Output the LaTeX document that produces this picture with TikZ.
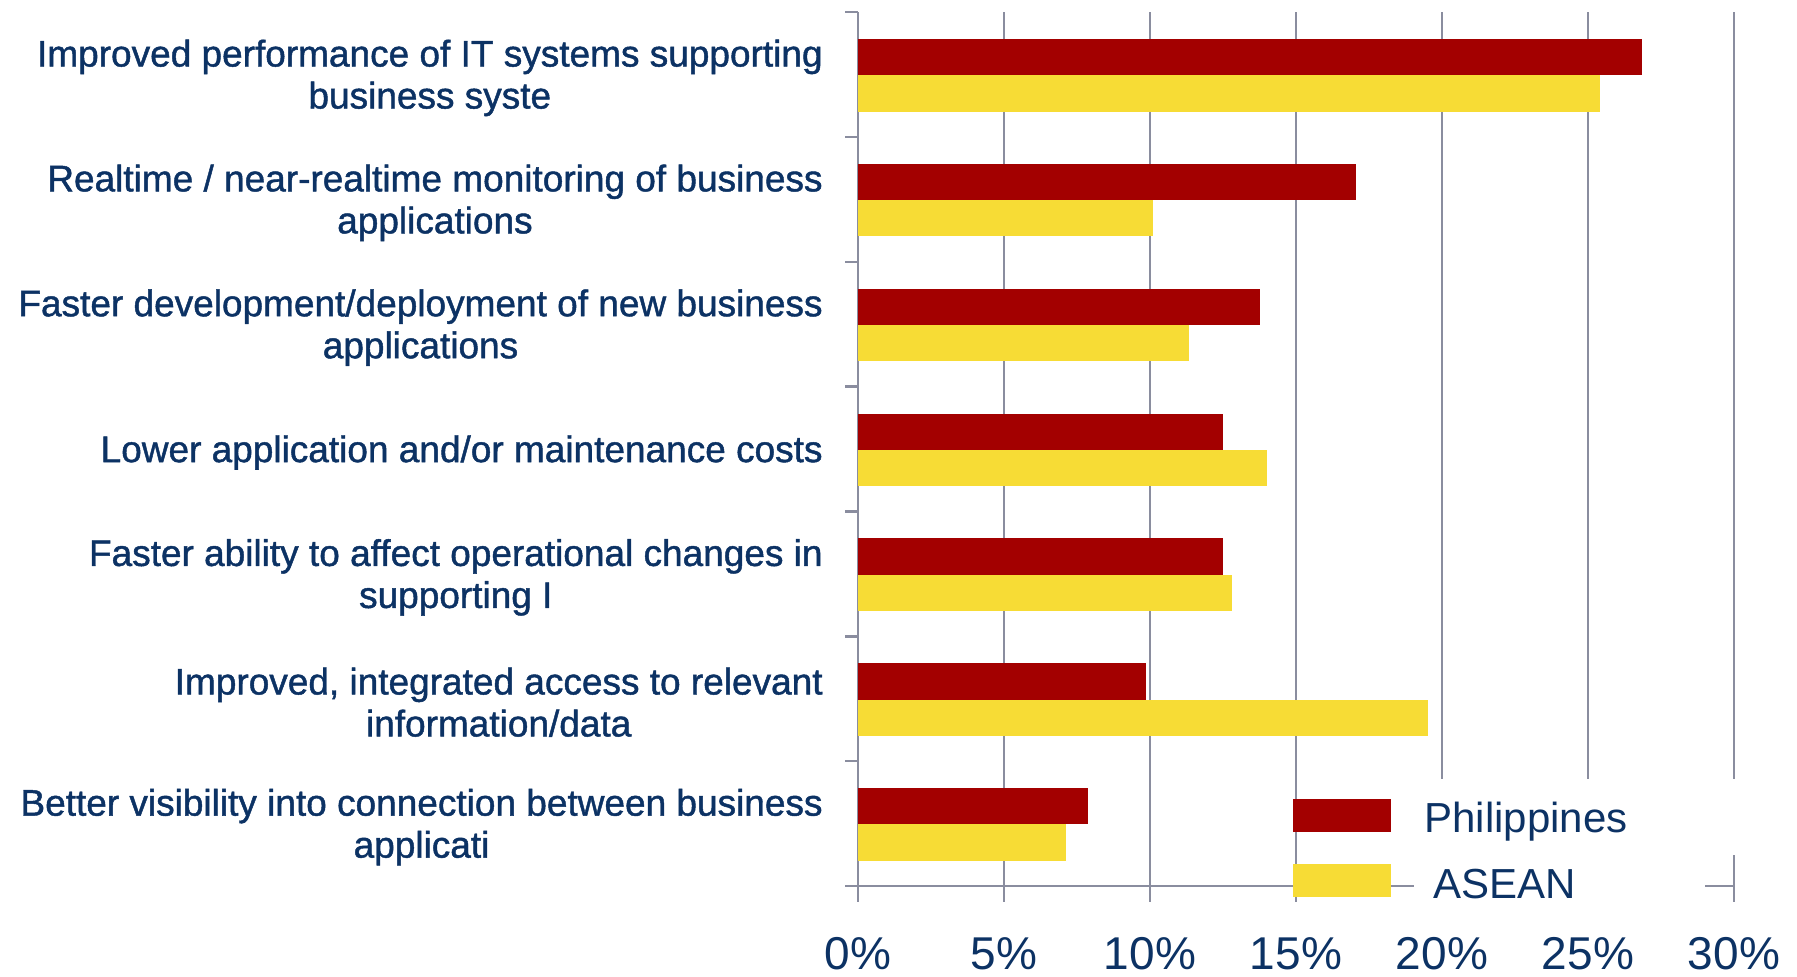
\documentclass[tikz,border=0pt]{standalone}
\usepackage{fontspec}
\setmainfont{Liberation Sans}
\newfontfamily\labfont[FakeBold=1.2]{Liberation Sans}
\definecolor{txt}{HTML}{0C3264}
\definecolor{gridc}{HTML}{8A8D9F}
\definecolor{phil}{HTML}{A30000}
\definecolor{asean}{HTML}{F7DC35}
\begin{document}
\begin{tikzpicture}[x=0.5pt,y=-0.5pt,
  gridline/.style={draw=gridc, line width=1.2pt},
  lab/.style={anchor=east, align=center, inner sep=0pt, text=txt, font=\labfont\fontsize{18.5}{21}\selectfont},
  ticklab/.style={anchor=center, inner sep=0pt, text=txt, font=\fontsize{23}{26}\selectfont},
  leg/.style={anchor=base west, inner sep=0pt, text=txt, font=\fontsize{21}{24}\selectfont},
  pbar/.style={fill=phil}, abar/.style={fill=asean}]
\useasboundingbox (0,0) rectangle (1797,976);
% grid lines
\foreach \p in {5,10,...,30} \draw[gridline] ({858+\p*29.2},12) -- ({858+\p*29.2},902);
\draw[gridline] (858,12) -- (858,902);
\foreach \i in {0,...,7} \draw[gridline] (845,{12+\i*124.857}) -- (858,{12+\i*124.857});
\draw[gridline] (845,886) -- (1734,886);
% legend background
\fill[white] (1414,779) rectangle (1745,855);
\fill[white] (1414,855) rectangle (1705,910);
% bars
\foreach \i/\pv/\av in {0/26.85/25.4,1/17.05/10.1,2/13.77/11.35,3/12.5/14.0,4/12.5/12.82,5/9.86/19.53,6/7.88/7.12}{
  \fill[pbar] (858,{12+\i*124.857+27}) rectangle ({858+\pv*29.2},{12+\i*124.857+63.2});
  \fill[abar] (858,{12+\i*124.857+63.2}) rectangle ({858+\av*29.2},{12+\i*124.857+99.5});
}
% category labels
\node[lab] (c1) at (823,{15.5+0.5*124.857}) {Improved performance of IT systems supporting\\business syste};
\node[lab] (c2) at (823,{15.5+1.5*124.857}) {Realtime / near-realtime monitoring of business\\applications};
\node[lab] (c3) at (823,{15.5+2.5*124.857}) {Faster development/deployment of new business\\applications};
\node[lab] (c4) at (823,{15.5+3.5*124.857}) {Lower application and/or maintenance costs};
\node[lab] (c5) at (823,{15.5+4.5*124.857}) {Faster ability to affect operational changes in\\supporting I};
\node[lab] (c6) at (823,{15.5+5.5*124.857}) {Improved, integrated access to relevant\\information/data};
\node[lab] (c7) at (823,{15.5+6.5*124.857}) {Better visibility into connection between business\\applicati};
% axis labels
\foreach \p in {0,5,10,...,30} \node[ticklab] (t\p) at ({858+\p*29.2},954) {\p\%};
% legend
\fill[pbar] (1293,799) rectangle (1391,832);
\fill[abar] (1293,864) rectangle (1391,897);
\node[leg] (lp) at (1424,832) {Philippines};
\node[leg] (la) at (1433,898) {ASEAN};
\end{tikzpicture}
\end{document}
